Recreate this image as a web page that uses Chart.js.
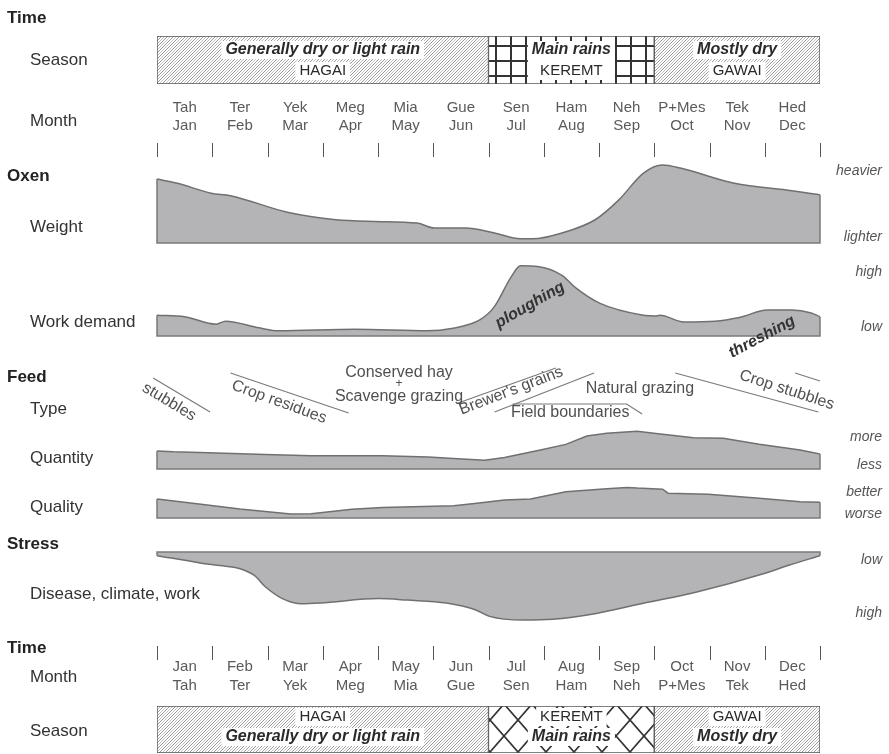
<!DOCTYPE html>
<html>
<head>
<meta charset="utf-8">
<title>Seasonal calendar - oxen</title>
<script src="https://cdn.jsdelivr.net/npm/chart.js@4.4.1/dist/chart.umd.min.js"></script>
<style>
  html, body { margin: 0; padding: 0; background: #fff; }
  canvas { display: block; }
</style>
</head>
<body>
<canvas id="calendar" width="889" height="754"></canvas>
<script>
// months: Gregorian and local names
const monthsEn = ['Jan', 'Feb', 'Mar', 'Apr', 'May', 'Jun', 'Jul', 'Aug', 'Sep', 'Oct', 'Nov', 'Dec'];
const monthsLocal = ['Tah', 'Ter', 'Yek', 'Meg', 'Mia', 'Gue', 'Sen', 'Ham', 'Neh', 'P+Mes', 'Tek', 'Hed'];

// seasons (start/end in months from 1 Jan)
const seasonNames = ['HAGAI', 'KEREMT', 'GAWAI'];
const seasonDesc = ['Generally dry or light rain', 'Main rains', 'Mostly dry'];
const seasonStart = [0, 6, 9];
const seasonEnd = [6, 9, 12];

// relative levels 0-100 at the given month positions
const weightX = [0, 0.37, 0.98, 1.33, 2.36, 3.24, 3.93, 4.71, 5.02, 5.58, 6.11, 6.58, 6.8, 7.33, 7.93, 8.36, 8.8, 9.15, 9.49, 10.45, 11.49, 11.8, 12];
const weight = [77, 72, 60, 57, 37, 28, 26, 24, 18, 18, 12, 5, 5, 12, 28, 52, 84, 94, 90, 72, 63, 60, 58];

const workX = [0, 0.5, 1.07, 1.24, 1.85, 2.2, 3.58, 4.89, 5.33, 5.85, 6.11, 6.41, 6.58, 6.89, 7.33, 7.58, 8.02, 8.8, 9.02, 9.1, 9.54, 10.1, 10.54, 11.05, 11.49, 11.84, 12];
const work = [28, 26, 16, 20, 11, 7, 9, 7, 10, 22, 40, 80, 95, 94, 82, 65, 44, 28, 27, 28, 19, 20, 25, 35, 35, 31, 26];

const quantityX = [0, 0.3, 0.93, 1.96, 2.79, 4.08, 4.91, 5.37, 5.93, 6.29, 6.94, 7.4, 7.78, 8.14, 8.69, 9.07, 9.71, 10.25, 10.9, 11.64, 12];
const quantity = [41, 39, 37, 33, 30, 30, 27, 24, 20, 26, 43, 56, 75, 81, 86, 80, 71, 70, 56, 43, 34];

const qualityX = [0, 0.76, 1.5, 2.42, 2.79, 3.53, 4.08, 5.37, 5.75, 6.29, 6.76, 7.4, 8.14, 8.51, 8.69, 9.15, 9.25, 9.98, 10.9, 11.64, 12];
const quality = [53, 39, 25, 11, 12, 24, 29, 34, 40, 50, 53, 73, 81, 85, 83, 80, 69, 66, 55, 45, 44];

const stressX = [0, 0.78, 1.75, 1.96, 2.27, 2.62, 2.96, 4.01, 4.53, 5.24, 5.76, 6.02, 6.63, 7.16, 7.95, 8.82, 9.77, 10.99, 11.43, 12];
const stress = [5, 15, 31, 47, 63, 70, 69, 63, 65, 69, 78, 87, 92, 91, 83, 69, 54, 29, 18, 5];

const FONT = "'Liberation Sans', Arial, Helvetica, sans-serif";
const AREA_FILL = '#b4b4b7';
const AREA_LINE = '#707070';

// vertical layout: one stacked axis per row, weight = row height
const rows = [
  ['yTime', 36], ['ySeasonTop', 48], ['yMonthTop', 76], ['yWeight', 83], ['yGap1', 19],
  ['yWork', 74], ['yType', 89], ['yQuantity', 44], ['yGap2', 13], ['yQuality', 36],
  ['yGap3', 34], ['yStress', 74], ['yMonthBottom', 80], ['ySeasonBottom', 47], ['yEnd', 1]
];

const scales = { x: { type: 'linear', min: 0, max: 12, display: false } };
rows.forEach(([id, h], i) => {
  const s = {
    position: 'right', stack: 'rows', stackWeight: h, weight: i,
    ticks: { display: false }, grid: { display: false, drawTicks: false }, border: { display: false }
  };
  if (id.startsWith('ySeason')) {
    s.type = 'category'; s.labels = ['season']; s.offset = true;
  } else {
    s.type = 'linear'; s.min = 0; s.max = 100;
  }
  if (id === 'yStress') s.reverse = true;
  scales[id] = s;
});

function pts(xs, ys) {
  return xs.map((x, i) => ({ x, y: ys[i] }));
}

function makePattern(ctx, w, h, draw) {
  const c = document.createElement('canvas');
  c.width = w; c.height = h;
  const g = c.getContext('2d');
  g.fillStyle = '#fff';
  g.fillRect(0, 0, w, h);
  draw(g, w, h);
  return ctx.createPattern(c, 'repeat');
}

const ctx = document.getElementById('calendar').getContext('2d');

const hatch = makePattern(ctx, 6, 6, (g) => {
  [-6, -3, 0, 3, 6].forEach((x0, k) => {
    g.beginPath();
    g.moveTo(x0, 6); g.lineTo(x0 + 6, 0);
    g.strokeStyle = k % 2 ? '#b0b0b0' : '#7c7c7c';
    g.lineWidth = 0.8;
    g.stroke();
  });
});
const squares = makePattern(ctx, 15, 15, (g) => {
  g.fillStyle = '#333';
  g.fillRect(0, 0, 2, 15);
  g.fillRect(0, 0, 15, 2);
});
const crosses = makePattern(ctx, 28, 32, (g) => {
  g.strokeStyle = '#333'; g.lineWidth = 1.7;
  g.beginPath();
  g.moveTo(0, 0); g.lineTo(28, 32);
  g.moveTo(28, 0); g.lineTo(0, 32);
  g.stroke();
});

function seasonBars(axisId, fills) {
  return {
    type: 'bar', indexAxis: 'y', xAxisID: 'x', yAxisID: axisId, grouped: false,
    data: seasonStart.map((s, i) => ({ x: [s, seasonEnd[i]], y: 'season' })),
    backgroundColor: fills, borderColor: '#555', borderWidth: 1, borderSkipped: false,
    barPercentage: 1, categoryPercentage: 1
  };
}

function area(label, xs, ys, axisId, smooth) {
  return {
    type: 'line', label, xAxisID: 'x', yAxisID: axisId, outline: true,
    data: pts(xs, ys),
    fill: 'origin', backgroundColor: AREA_FILL, borderColor: AREA_LINE, borderWidth: 1.5,
    pointRadius: 0, tension: smooth ? 0.4 : 0, cubicInterpolationMode: smooth ? 'monotone' : 'default'
  };
}

// left and right row captions [text, x, y, style]
const leftLabels = [
  ['Time', 7, 18, 'h'], ['Season', 30, 60, 'r'], ['Month', 30, 121, 'r'],
  ['Oxen', 7, 176, 'h'], ['Weight', 30, 227, 'r'], ['Work demand', 30, 322, 'r'],
  ['Feed', 7, 377, 'h'], ['Type', 30, 409, 'r'], ['Quantity', 30, 458, 'r'], ['Quality', 30, 507, 'r'],
  ['Stress', 7, 544, 'h'], ['Disease, climate, work', 30, 594, 'r'],
  ['Time', 7, 648, 'h'], ['Month', 30, 677, 'r'], ['Season', 30, 731, 'r']
];
const rightLabels = [
  ['heavier', 171], ['lighter', 237], ['high', 272], ['low', 327], ['more', 437],
  ['less', 465], ['better', 492], ['worse', 514], ['low', 560], ['high', 613]
];

const decor = {
  id: 'decor',
  afterDatasetsDraw(chart) {
    const { ctx: c, scales: sc } = chart;
    const X = v => sc.x.getPixelForValue(v);
    const seg = (pairs) => {
      c.beginPath();
      pairs.forEach(([x, y], i) => (i ? c.lineTo(x, y) : c.moveTo(x, y)));
      c.stroke();
    };
    const text = (s, x, y, font, color, align, angle) => {
      c.save();
      c.translate(x, y);
      if (angle) c.rotate(angle * Math.PI / 180);
      c.font = font; c.fillStyle = color; c.textAlign = align || 'left'; c.textBaseline = 'middle';
      c.fillText(s, 0, 0);
      c.restore();
    };
    // white plate behind one or two centred caption lines
    const plate = (lines, x, y0, gap) => {
      let w = 0;
      lines.forEach(([s, f]) => { c.font = f; w = Math.max(w, c.measureText(s).width); });
      c.fillStyle = '#fff';
      c.fillRect(x - w / 2 - 4, y0 - 9, w + 8, gap * (lines.length - 1) + 18);
      lines.forEach(([s, f], k) => text(s, x, y0 + k * gap, f, '#2a2a2a', 'center'));
    };
    c.save();

    // outline (baseline and end edges) of each area
    chart.data.datasets.forEach((ds, i) => {
      if (!ds.outline) return;
      const p = chart.getDatasetMeta(i).data;
      const y0 = sc[ds.yAxisID].getPixelForValue(0);
      const a = p[0], b = p[p.length - 1];
      c.strokeStyle = '#7a7a7a'; c.lineWidth = 1.5;
      seg([[a.x, a.y], [a.x, y0], [b.x, y0], [b.x, b.y]]);
    });

    // month ticks and names
    const mt = sc.yMonthTop, mb = sc.yMonthBottom;
    c.strokeStyle = '#555'; c.lineWidth = 1;
    for (let i = 0; i <= 12; i++) {
      const px = Math.round(X(i)) + 0.5;
      seg([[px, mt.top + 59], [px, mt.top + 73]]);
      seg([[px, mb.top + 20], [px, mb.top + 34]]);
    }
    const mFont = '15px ' + FONT;
    monthsEn.forEach((m, i) => {
      const cx = X(i + 0.5);
      text(monthsLocal[i], cx, mt.top + 24, mFont, '#5a5a5a', 'center');
      text(m, cx, mt.top + 42, mFont, '#5a5a5a', 'center');
      text(m, cx, mb.top + 41, mFont, '#5a5a5a', 'center');
      text(monthsLocal[i], cx, mb.top + 60, mFont, '#5a5a5a', 'center');
    });

    // season captions
    const descFont = 'italic bold 16px ' + FONT, nameFont = '15px ' + FONT;
    seasonNames.forEach((name, i) => {
      const cx = X((seasonStart[i] + seasonEnd[i]) / 2);
      const t = sc.ySeasonTop.top, b = sc.ySeasonBottom.top;
      if (i === 1) {
        plate([[seasonDesc[i], descFont], [name, nameFont]], cx, t + 14, 21);
      } else {
        plate([[seasonDesc[i], descFont]], cx, t + 14, 0);
        plate([[name, nameFont]], cx, t + 35, 0);
      }
      plate([[name, nameFont]], cx, b + 11, 0);
      plate([[seasonDesc[i], descFont]], cx, b + 31, 0);
    });

    // feed type notes (x in months, y from top of the Type row)
    const ty = sc.yType.top;
    const fFont = '16px ' + FONT, fCol = '#505050';
    c.strokeStyle = '#7a7a7a'; c.lineWidth = 1.2;
    seg([[X(-0.07), ty + 42], [X(0.96), ty + 76]]);
    seg([[X(1.33), ty + 37], [X(3.47), ty + 77]]);
    seg([[X(5.45), ty + 67], [X(7.22), ty + 32]]);
    seg([[X(6.11), ty + 76], [X(7.91), ty + 37]]);
    seg([[X(6.44), ty + 68], [X(8.5), ty + 68], [X(8.78), ty + 78]]);
    seg([[X(9.38), ty + 37], [X(11.97), ty + 76]]);
    seg([[X(11.55), ty + 37], [X(12.0), ty + 45]]);
    text('stubbles', X(0.22), ty + 66, fFont, fCol, 'center', 31);
    text('Crop residues', X(2.21), ty + 66, fFont, fCol, 'center', 20);
    text('Conserved hay', X(4.38), ty + 37, fFont, fCol, 'center');
    text('+', X(4.38), ty + 48, '12px ' + FONT, fCol, 'center');
    text('Scavenge grazing', X(4.38), ty + 61, fFont, fCol, 'center');
    text("Brewer's grains", X(6.41), ty + 55, fFont, fCol, 'center', -21);
    text('Field boundaries', X(7.48), ty + 77, fFont, fCol, 'center');
    text('Natural grazing', X(8.74), ty + 53, fFont, fCol, 'center');
    text('Crop stubbles', X(11.4), ty + 54, fFont, fCol, 'center', 18);

    // work demand notes
    const wy = sc.yWork.top;
    text('ploughing', X(6.75), wy + 43, 'italic bold 16px ' + FONT, '#333', 'center', -30);
    text('threshing', X(10.95), wy + 75, 'italic bold 16px ' + FONT, '#333', 'center', -28);

    // row captions
    leftLabels.forEach(([s, x, y, k]) => {
      text(s, x, y, (k === 'h' ? 'bold 17px ' : '17px ') + FONT, k === 'h' ? '#222' : '#333', 'left');
    });
    rightLabels.forEach(([s, y]) => {
      text(s, 882, y, 'italic 14px ' + FONT, '#555', 'right');
    });

    c.restore();
  }
};

new Chart(ctx, {
  type: 'line',
  data: {
    datasets: [
      seasonBars('ySeasonTop', [hatch, squares, hatch]),
      seasonBars('ySeasonBottom', [hatch, crosses, hatch]),
      area('Weight', weightX, weight, 'yWeight', true),
      area('Work demand', workX, work, 'yWork', true),
      area('Feed quantity', quantityX, quantity, 'yQuantity', false),
      area('Feed quality', qualityX, quality, 'yQuality', false),
      area('Stress', stressX, stress, 'yStress', true)
    ]
  },
  options: {
    responsive: false,
    animation: false,
    layout: { padding: { left: 157, right: 69, top: 0, bottom: 0 } },
    plugins: { legend: { display: false }, tooltip: { enabled: false } },
    scales
  },
  plugins: [decor]
});
</script>
</body>
</html>
